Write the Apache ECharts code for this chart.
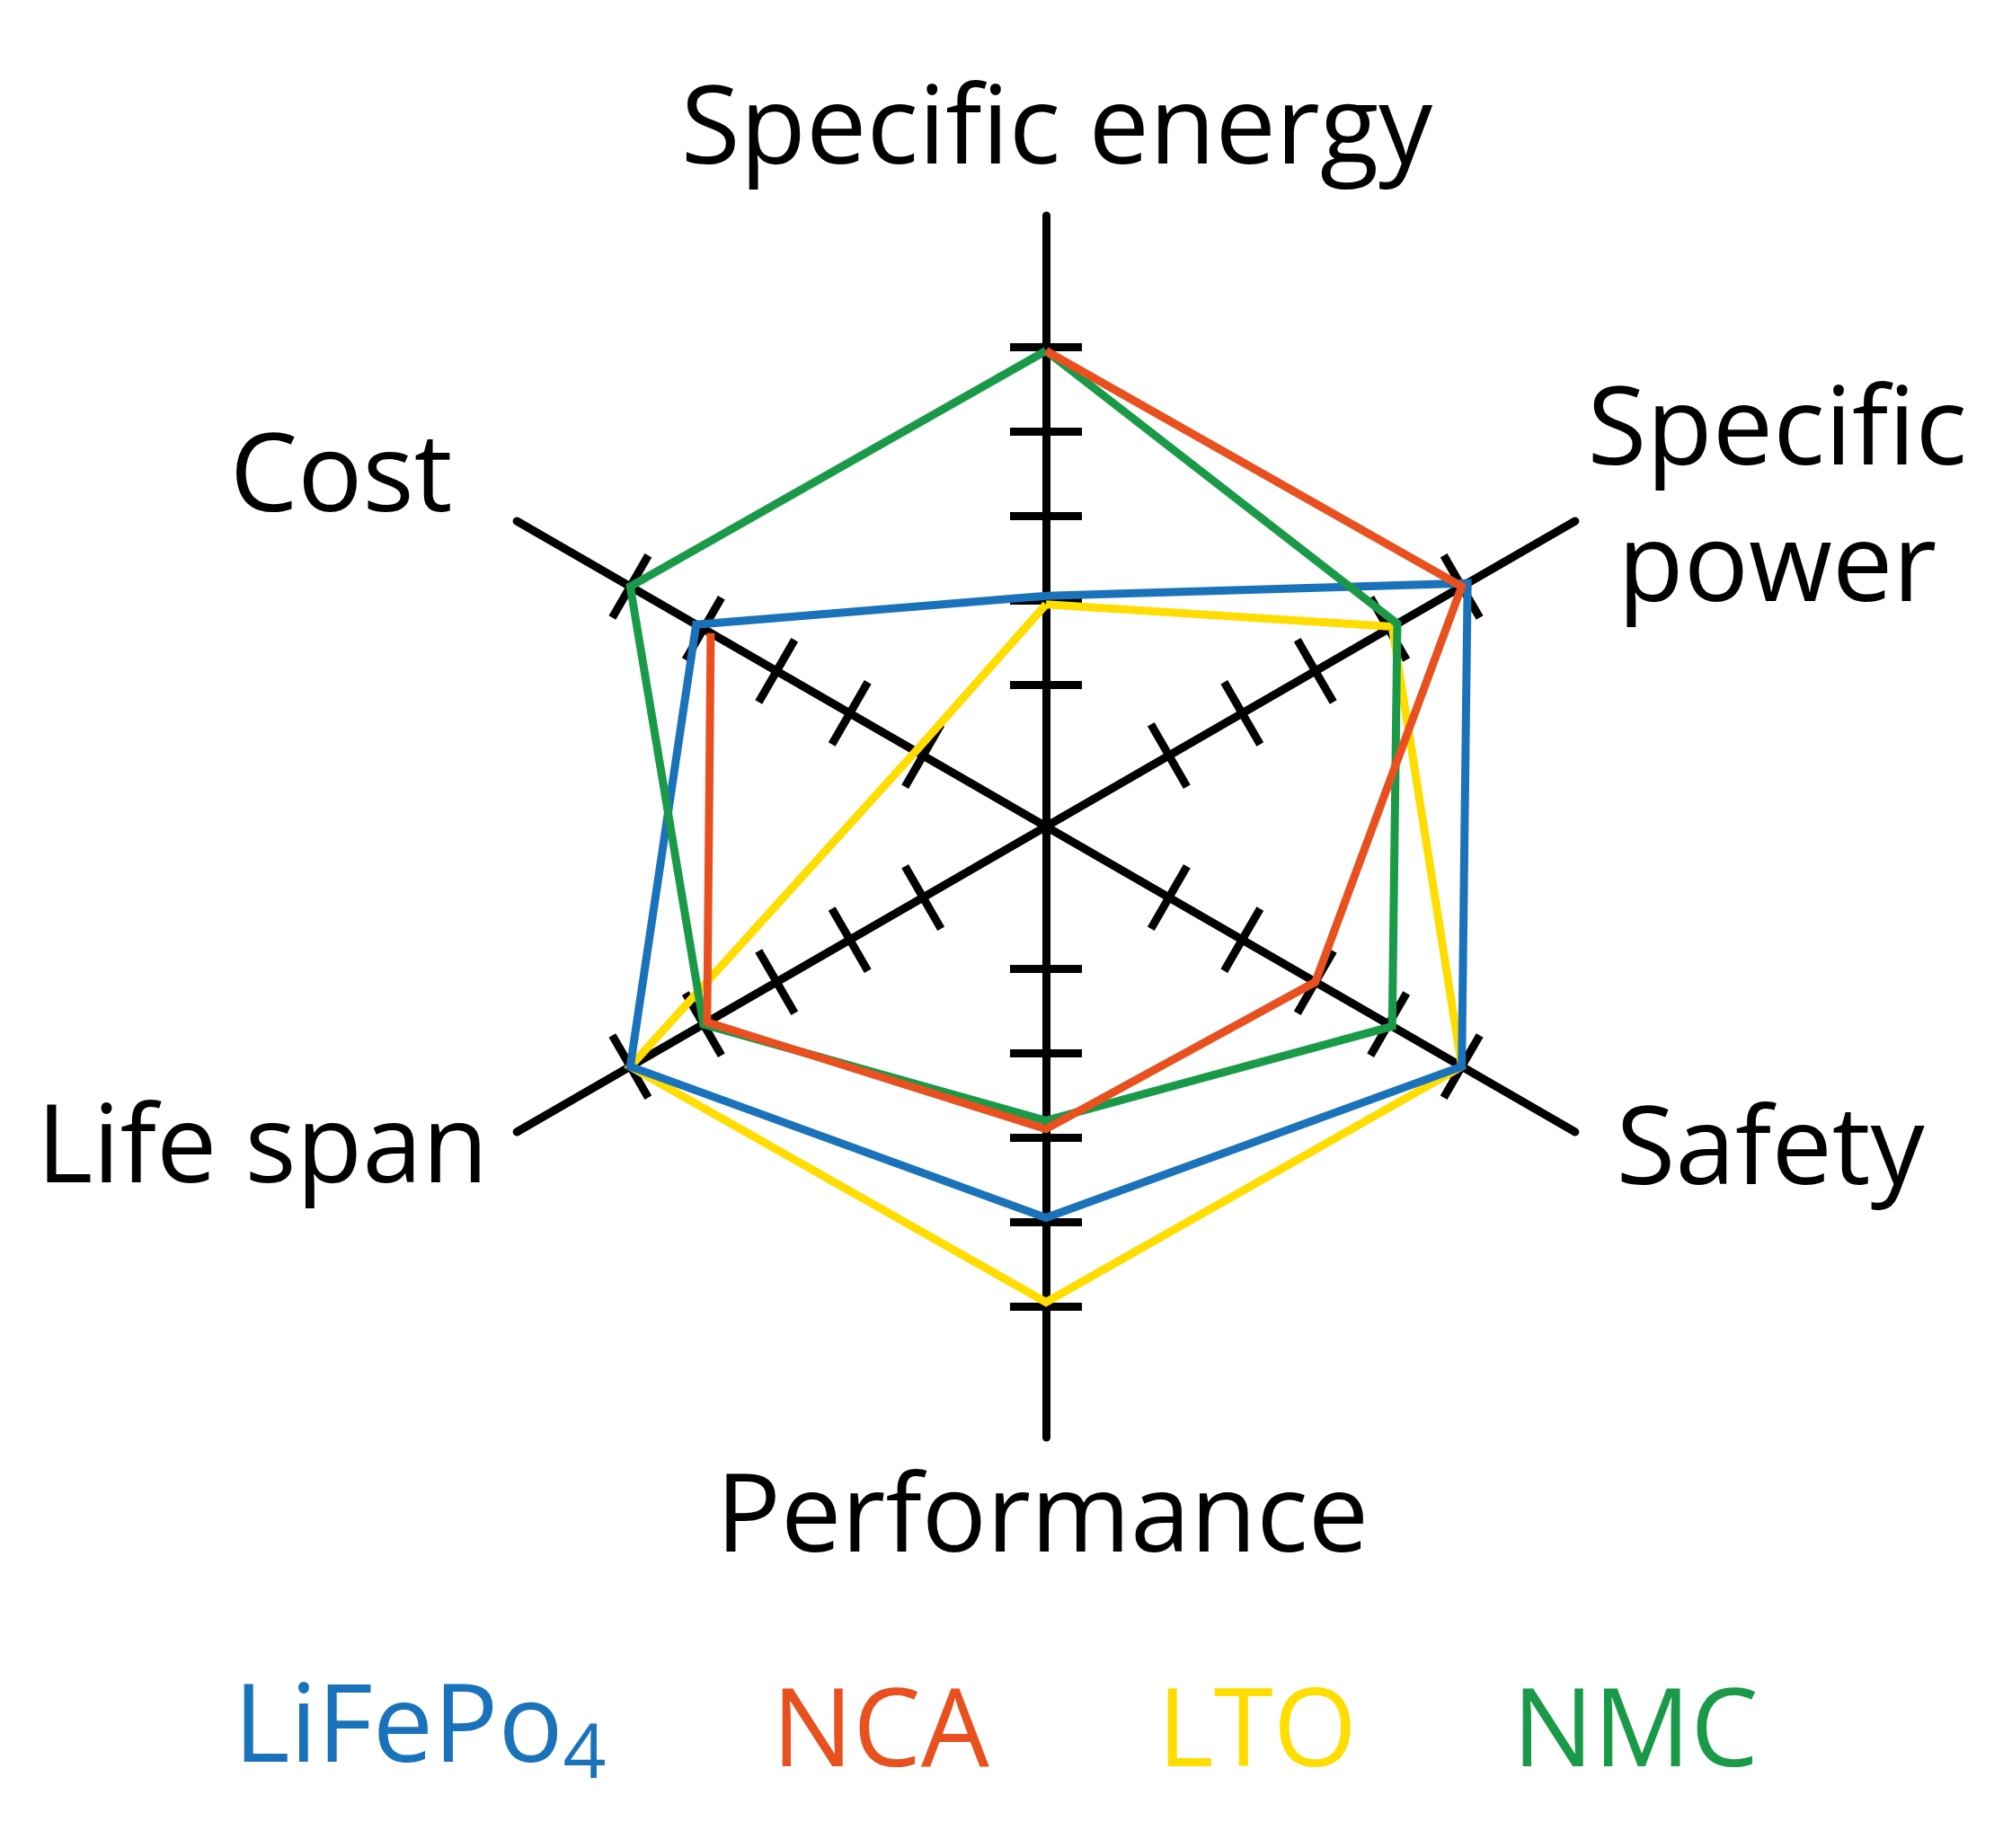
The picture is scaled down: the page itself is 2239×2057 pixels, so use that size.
<!DOCTYPE html>
<html>
<head>
<meta charset="utf-8">
<script src="https://cdn.jsdelivr.net/npm/echarts@6/dist/echarts.min.js"></script>
<style>
html,body{margin:0;padding:0;background:#ffffff;}
#chart{width:2239px;height:2057px;}
</style>
</head>
<body>
<div id="chart"></div>
<script>
// ---------- data ----------
const indicatorNames = ['Specific energy', 'Cost', 'Life span', 'Performance', 'Safety', 'Specific power'];
const tickValues = [1, 2, 3, 4, 5];
const seriesNames = ['LiFePo4', 'NCA', 'LTO', 'NMC'];
const lifepo4 = [2.05, 4.1, 5.0, 3.95, 5.0, 5.08];
const nca     = [4.95, 3.9, 3.95, 2.9, 3.0, 5.0];
const lto     = [1.95, 1.1, 5.0, 4.95, 5.0, 4.05];
const nmc     = [4.95, 5.0, 4.0, 2.8, 4.05, 4.12];
const axisMin = -0.68;
const axisMax = 6.55;

// ---------- style ----------
const FONT = '"Open Sans", "Noto Sans", sans-serif';
const FS = 120;
const colors = { LiFePo4: '#1a72bb', NCA: '#e8511f', LTO: '#ffdd00', NMC: '#1a9a48' };
const valuesByName = { LiFePo4: lifepo4, NCA: nca, LTO: lto, NMC: nmc };
const legendLeft = [255, 854, 1283, 1678];
const center = [1164, 920];
const radius = 680;
const LW = 9;

const indicators = indicatorNames.map(n => ({ name: n, min: axisMin, max: axisMax }));

// NCA is drawn as an open outline (its Cost -> Specific energy side is absent in the figure):
// categories listed from Cost round to Specific energy on a polar system laid over the radar.
const ncaCategories = indicatorNames.slice(1).concat(indicatorNames.slice(0, 1));
const ncaOpen = nca.slice(1).concat(nca.slice(0, 1));

function tok(extra) {
  return Object.assign({ fontFamily: FONT, fontSize: FS, color: '#000', lineHeight: 140 }, extra);
}
const nameRich = {
  se: tok({ padding: [0, 0, 24, 24] }),
  sp1: tok({ lineHeight: 185, align: 'center', padding: [0, 0, 0, 5] }),
  sp2: tok({ lineHeight: 185, align: 'center', padding: [0, 0, 66, 5] }),
  cost: tok({ padding: [0, 63, 80, 0] }),
  life: tok({ padding: [34, 23, 0, 0] }),
  safety: tok({ padding: [38, 0, 0, 37] }),
  perf: tok({ padding: [25, 8, 0, 0] })
};
const nameKey = { 'Specific energy': 'se', 'Cost': 'cost', 'Life span': 'life', 'Performance': 'perf', 'Safety': 'safety' };
function nameFormatter(name) {
  if (name === 'Specific power') return '{sp1|Specific}\n{sp2|power}';
  return '{' + nameKey[name] + '|' + name + '}';
}

const legendRich = {
  b0: { fontFamily: FONT, fontSize: FS, color: colors.LiFePo4, lineHeight: 140 },
  s0: { fontFamily: FONT, fontSize: 84, color: colors.LiFePo4, lineHeight: 140, padding: [56, 0, 0, 0] },
  b1: { fontFamily: FONT, fontSize: FS, color: colors.NCA, lineHeight: 140 },
  b2: { fontFamily: FONT, fontSize: FS, color: colors.LTO, lineHeight: 140 },
  b3: { fontFamily: FONT, fontSize: FS, color: colors.NMC, lineHeight: 140 }
};
function legendFormatter(name) {
  if (name === 'LiFePo4') return '{b0|LiFePo}{s0|4}';
  const i = seriesNames.indexOf(name);
  return '{b' + i + '|' + name + '}';
}

function radarSeries(n) {
  return {
    type: 'radar',
    radarIndex: 0,
    name: n,
    symbol: 'none',
    lineStyle: { color: colors[n], width: LW, join: 'miter', miterLimit: 10 },
    itemStyle: { color: colors[n] },
    data: [{ name: n, value: valuesByName[n] }]
  };
}

const chart = echarts.init(document.getElementById('chart'), null, { renderer: 'canvas' });

const option = {
  animation: false,
  backgroundColor: '#ffffff',
  radar: [
    {
      center: center,
      radius: radius,
      startAngle: 90,
      shape: 'polygon',
      splitNumber: 1,
      indicator: indicators,
      nameGap: 10,
      axisName: {
        show: true,
        color: '#000',
        fontFamily: FONT,
        fontSize: FS,
        formatter: nameFormatter,
        rich: nameRich
      },
      axisLine: { show: true, lineStyle: { color: '#000', width: LW } },
      axisTick: { show: true, length: 40, customValues: tickValues, lineStyle: { color: '#000', width: LW } },
      axisLabel: { show: false },
      splitLine: { show: false },
      splitArea: { show: false }
    },
    {
      center: center,
      radius: radius,
      startAngle: 90,
      shape: 'polygon',
      splitNumber: 1,
      indicator: indicators,
      axisName: { show: false },
      axisLine: { show: false },
      axisTick: { show: true, length: -40, customValues: tickValues, lineStyle: { color: '#000', width: LW } },
      axisLabel: { show: false },
      splitLine: { show: false },
      splitArea: { show: false },
      silent: true
    }
  ],
  polar: { center: center, radius: [0, radius] },
  angleAxis: {
    type: 'category',
    data: ncaCategories,
    startAngle: 120,
    clockwise: false,
    boundaryGap: true,
    axisLine: { show: false },
    axisTick: { show: false },
    axisLabel: { show: false },
    splitLine: { show: false },
    splitArea: { show: false }
  },
  radiusAxis: {
    type: 'value',
    min: axisMin,
    max: axisMax,
    axisLine: { show: false },
    axisTick: { show: false },
    axisLabel: { show: false },
    splitLine: { show: false },
    splitArea: { show: false }
  },
  legend: seriesNames.map((n, i) => ({
    data: [n],
    left: legendLeft[i],
    top: n === 'LiFePo4' ? 1857 : 1872,
    padding: 0,
    itemWidth: 0,
    itemHeight: 0,
    icon: 'rect',
    selectedMode: false,
    formatter: legendFormatter,
    textStyle: { fontFamily: FONT, fontSize: FS, color: colors[n], rich: legendRich }
  })),
  series: [
    radarSeries('LTO'),
    radarSeries('LiFePo4'),
    {
      type: 'line',
      coordinateSystem: 'polar',
      polarIndex: 0,
      name: 'NCA',
      symbol: 'none',
      lineStyle: { color: colors.NCA, width: LW, join: 'miter', miterLimit: 10 },
      itemStyle: { color: colors.NCA },
      data: ncaOpen
    },
    radarSeries('NMC')
  ]
};
chart.setOption(option);
</script>
</body>
</html>
